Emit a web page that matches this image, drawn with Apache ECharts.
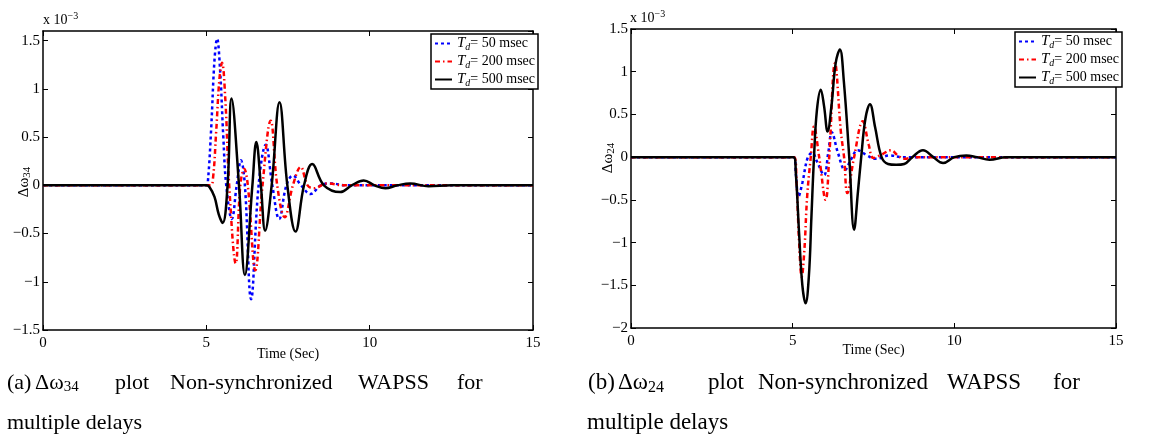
<!DOCTYPE html>
<html>
<head>
<meta charset="utf-8">
<style>
  html, body { margin: 0; padding: 0; background: #fff; }
  #chart { width: 1153px; height: 437px; }
</style>
<script src="https://cdn.jsdelivr.net/npm/echarts@6/dist/echarts.min.js"></script>
</head>
<body>
<div id="chart"></div>
<script>
  // 数据 [time (s), value x 1e-3]
  var delayNames = ['50 msec', '200 msec', '500 msec'];

  // (a) Δω34
  var w34_50 = [[0,0],[5,0],[5.05,0.05],[5.15,0.6],[5.25,1.3],[5.33,1.52],[5.42,1.2],[5.52,0.5],[5.61,0],[5.78,-0.35],[5.93,0],[6.06,0.26],[6.18,0],[6.37,-1.18],[6.6,0],[6.82,0.42],[7.02,0],[7.23,-0.35],[7.45,0],[7.65,0.1],[7.9,0],[8.19,-0.09],[8.5,0],[8.8,0.02],[9.3,0],[15,0]];
  var w34_200 = [[0,0],[5.12,0],[5.2,0.06],[5.3,0.55],[5.4,1.1],[5.48,1.27],[5.58,0.9],[5.7,0],[5.9,-0.81],[6.04,0],[6.16,0.17],[6.27,0],[6.5,-0.88],[6.72,0],[6.97,0.67],[7.17,0],[7.4,-0.33],[7.65,0],[7.89,0.19],[8.1,0],[8.3,-0.03],[8.7,0.02],[9.2,0],[15,0]];
  var w34_500 = [[0,0],[5,0],[5.1,-0.02],[5.25,-0.12],[5.38,-0.3],[5.5,-0.39],[5.65,0],[5.77,0.9],[6,0],[6.18,-0.93],[6.41,0],[6.53,0.45],[6.67,0],[6.8,-0.47],[7,0],[7.24,0.86],[7.48,0],[7.73,-0.48],[7.99,0],[8.24,0.22],[8.6,0],[9.1,-0.07],[9.45,0],[9.82,0.05],[10.15,0],[10.48,-0.03],[10.85,0],[11.24,0.02],[11.8,-0.01],[12.5,0],[15,0]];

  // (b) Δω24
  var w24_50 = [[0,0],[5.04,0],[5.1,-0.2],[5.18,-0.46],[5.3,-0.3],[5.47,0],[5.61,0.05],[5.75,-0.05],[5.97,-0.21],[6.1,0.05],[6.21,0.29],[6.4,0.05],[6.62,-0.15],[6.8,-0.03],[7.01,0.08],[7.3,0.02],[7.58,-0.02],[8,0.02],[8.4,0],[15,0]];
  var w24_200 = [[0,0],[5.05,0],[5.12,-0.3],[5.2,-1.0],[5.28,-1.4],[5.36,-1.1],[5.45,-0.45],[5.56,0],[5.66,0.36],[5.82,0],[6.02,-0.5],[6.13,0],[6.31,1.1],[6.49,0.3],[6.59,0],[6.69,-0.42],[6.9,0],[7.17,0.42],[7.35,0.15],[7.5,-0.01],[7.75,0.03],[8.04,0.08],[8.25,0.02],[8.45,-0.02],[8.8,0],[15,0]];
  var w24_500 = [[0,0],[5.03,0],[5.1,-0.2],[5.2,-0.9],[5.3,-1.5],[5.4,-1.71],[5.5,-1.4],[5.58,-0.7],[5.66,0],[5.75,0.55],[5.87,0.79],[5.97,0.6],[6.08,0.3],[6.2,0.6],[6.33,1.1],[6.46,1.26],[6.58,0.9],[6.75,0],[6.9,-0.85],[7.02,-0.4],[7.12,0],[7.25,0.45],[7.39,0.62],[7.55,0.35],[7.75,0],[7.95,-0.08],[8.2,-0.09],[8.45,-0.08],[8.7,0],[9.03,0.08],[9.35,0],[9.65,-0.07],[10,0],[10.37,0.02],[10.7,0],[11.09,-0.03],[11.6,0],[15,0]];

  var SERIF = "'Liberation Serif', 'DejaVu Serif', serif";
  var lineStyles = [
    { color: '#0000ff', width: 2.5, type: [3, 3] },
    { color: '#ff0000', width: 2.5, type: [5, 3, 1.5, 3] },
    { color: '#000000', width: 2.5, type: 'solid' }
  ];

  function minus(v) {
    return String(v).replace('-', '\u2212');
  }

  function xAxisOf(grid, pos, gap) {
    return {
      type: 'value', gridIndex: grid, position: pos,
      min: 0, max: 15, interval: 5,
      name: pos === 'bottom' ? 'Time (Sec)' : '',
      nameLocation: 'middle', nameGap: gap, nameMoveOverlap: false,
      nameTextStyle: { fontFamily: SERIF, fontSize: 14, color: '#000' },
      axisLine: { show: true, onZero: false, lineStyle: { color: '#000', width: 1.5 } },
      axisTick: { show: true, inside: true, length: 5, lineStyle: { color: '#000', width: 1 } },
      axisLabel: { show: pos === 'bottom', margin: 6, fontFamily: SERIF, fontSize: 15, color: '#000' },
      splitLine: { show: false }
    };
  }

  function yAxisOf(grid, pos, min, max) {
    return {
      type: 'value', gridIndex: grid, position: pos,
      min: min, max: max, interval: 0.5,
      axisLine: { show: true, onZero: false, lineStyle: { color: '#000', width: 1.5 } },
      axisTick: { show: true, inside: true, length: 5, lineStyle: { color: '#000', width: 1 } },
      axisLabel: {
        show: pos === 'left', margin: 3, fontFamily: SERIF, fontSize: 15, color: '#000',
        showMaxLabel: max % 0.5 === 0,
        formatter: function (v) {
          return Math.abs(v * 2 - Math.round(v * 2)) < 1e-6 ? minus(v) : '';
        }
      },
      splitLine: { show: false }
    };
  }

  function seriesOf(arrs, axisIdx) {
    return arrs.map(function (d, i) {
      return {
        type: 'line', name: delayNames[i],
        xAxisIndex: axisIdx, yAxisIndex: axisIdx,
        data: d, symbol: 'none', smooth: 0.4,
        lineStyle: lineStyles[i],
        itemStyle: { color: lineStyles[i].color },
        z: 2 + i
      };
    });
  }

  function legendOf(left, top) {
    return {
      left: left, top: top, orient: 'vertical', data: delayNames,
      itemWidth: 17, itemHeight: 10, itemGap: 2,
      padding: [2, 3, 1, 3],
      borderColor: '#000', borderWidth: 1.5, backgroundColor: '#fff',
      itemStyle: { opacity: 0 },
      formatter: function (n) { return '{t|T}{d|d}{n|= ' + n + '}'; },
      textStyle: {
        color: '#000', fontFamily: SERIF, fontSize: 14,
        rich: {
          t: { fontFamily: SERIF, fontStyle: 'italic', fontSize: 15, color: '#000' },
          d: { fontFamily: SERIF, fontStyle: 'italic', fontSize: 10, color: '#000', padding: [7, 0, 0, 0] },
          n: { fontFamily: SERIF, fontSize: 14, color: '#000' }
        }
      }
    };
  }

  function txt(x, y, text, size, align) {
    return {
      type: 'text', silent: true,
      style: {
        x: x, y: y, text: text, fill: '#000',
        fontFamily: SERIF, fontSize: size,
        align: align || 'left', verticalAlign: 'middle',
        rich: {
          m: { fontFamily: SERIF, fontSize: size, fill: '#000' },
          s: { fontFamily: SERIF, fontSize: Math.round(size * 0.7), fill: '#000', padding: [Math.round(size * 0.4), 0, 0, 0] },
          u: { fontFamily: SERIF, fontSize: Math.round(size * 0.7), fill: '#000', padding: [0, 0, Math.round(size * 0.5), 0] }
        }
      }
    };
  }

  var graphics = [
    txt(43, 20, '{m|x 10}{u|\u22123}', 14),
    txt(630, 18, '{m|x 10}{u|\u22123}', 14)
  ];

  // rotated y-axis names
  var yNameA = txt(0, 0, '{m|\u0394\u03c9}{s|34}', 15, 'center');
  yNameA.x = 24; yNameA.y = 182; yNameA.rotation = Math.PI / 2;
  var yNameB = txt(0, 0, '{m|\u0394\u03c9}{s|24}', 15, 'center');
  yNameB.x = 608; yNameB.y = 158; yNameB.rotation = Math.PI / 2;
  graphics.push(yNameA, yNameB);

  // captions
  var capA = [[7, '(a)'], [35, '{m|\u0394\u03c9}{s|34}'], [115, 'plot'], [170, 'Non-synchronized'], [358, 'WAPSS'], [457, 'for']];
  var capB = [[588, '(b)'], [618, '{m|\u0394\u03c9}{s|24}'], [708, 'plot'], [758, 'Non-synchronized'], [947, 'WAPSS'], [1053, 'for']];
  capA.forEach(function (w) { graphics.push(txt(w[0], 383, w[1].charAt(0) === '{' ? w[1] : '{m|' + w[1] + '}', 22)); });
  capB.forEach(function (w) { graphics.push(txt(w[0], 383, w[1].charAt(0) === '{' ? w[1] : '{m|' + w[1] + '}', 23)); });
  graphics.push(txt(7, 423, '{m|multiple delays}', 22));
  graphics.push(txt(587, 423, '{m|multiple delays}', 23));

  var myChart = echarts.init(document.getElementById('chart'));
  var option = {
    backgroundColor: '#fff',
    animation: false,
    grid: [
      { left: 43, top: 31, width: 490, height: 299 },
      { left: 631, top: 29, width: 485, height: 299 }
    ],
    xAxis: [xAxisOf(0, 'bottom', 17), xAxisOf(0, 'top', 17), xAxisOf(1, 'bottom', 15), xAxisOf(1, 'top', 15)],
    yAxis: [yAxisOf(0, 'left', -1.5, 1.6), yAxisOf(0, 'right', -1.5, 1.6), yAxisOf(1, 'left', -2, 1.5), yAxisOf(1, 'right', -2, 1.5)],
    legend: [legendOf(431, 34), legendOf(1015, 32)],
    series: seriesOf([w34_50, w34_200, w34_500], 0).concat(seriesOf([w24_50, w24_200, w24_500], 2)),
    graphic: graphics
  };
  myChart.setOption(option);
</script>
</body>
</html>
